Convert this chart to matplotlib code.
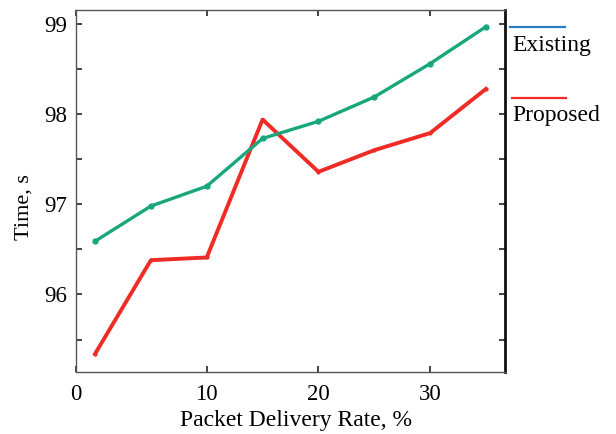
import matplotlib
matplotlib.use("Agg")
import matplotlib.pyplot as plt
from matplotlib.lines import Line2D

plt.rcParams['font.family'] = ['Liberation Serif', 'DejaVu Serif']

x_vals = [0, 5, 10, 15, 20, 25, 30, 35]
existing = [96.59, 96.98, 97.20, 97.73, 97.92, 98.19, 98.56, 98.97]
proposed = [95.34, 96.38, 96.41, 97.94, 97.36, 97.60, 97.79, 98.28]
series_names = ["Existing", "Proposed"]
xtick_labels = ["0", "10", "20", "30"]
ytick_vals = [96, 97, 98, 99]

green = "#17a77a"
red = "#ee2b25"
blue = "#2b7fc3"

fig = plt.figure(figsize=(6.16, 4.34), dpi=100)
ax = fig.add_axes([0.1234, 0.1429, 0.6964, 0.8341])

ax.plot(x_vals, existing, color=green, lw=2.4, marker='o', ms=3.5, zorder=3)
ax.plot(x_vals, proposed, color=red, lw=2.8, marker='o', ms=2, zorder=2)

xmin, xmax = -1.7, 36.7
ax.set_xlim(xmin, xmax)
ax.set_ylim(95.14, 99.155)

ax.set_xticks([xmin, 10, 20, 30])
ax.set_xticklabels(xtick_labels)
ax.set_yticks(ytick_vals)
ax.set_yticks([95.5, 96.5, 97.5, 98.5], minor=True)
ax.tick_params(axis='both', which='both', direction='in', length=4.5, width=1.2,
               labelsize=16.5, top=True, right=True, color='#222222')
ax.tick_params(axis='x', pad=9)
ax.tick_params(axis='y', pad=6.5)
ax.tick_params(axis='x', which='minor', bottom=False, top=False)

for side in ['left', 'bottom', 'top']:
    ax.spines[side].set_color('#555555')
    ax.spines[side].set_linewidth(1.0)
ax.spines['right'].set_color('#111111')
ax.spines['right'].set_linewidth(2.0)

ax.set_xlabel("Packet Delivery Rate, %", fontsize=17, labelpad=2)
ax.xaxis.set_label_coords(0.512, -0.105)
ax.set_ylabel("Time, s", fontsize=16)
ax.yaxis.set_label_coords(-0.098, 0.456)

# legend outside on the right
fig.add_artist(Line2D([510/616, 565/616], [1-27/434, 1-27/434], color=blue, lw=1.6))
fig.text(512/616, 1-46/434, series_names[0], fontsize=17, va='center', ha='left')
fig.add_artist(Line2D([512/616, 566/616], [1-98/434, 1-98/434], color=red, lw=1.6))
fig.text(512/616, 1-116/434, series_names[1], fontsize=17, va='center', ha='left')

fig.savefig("out.png", dpi=100)
